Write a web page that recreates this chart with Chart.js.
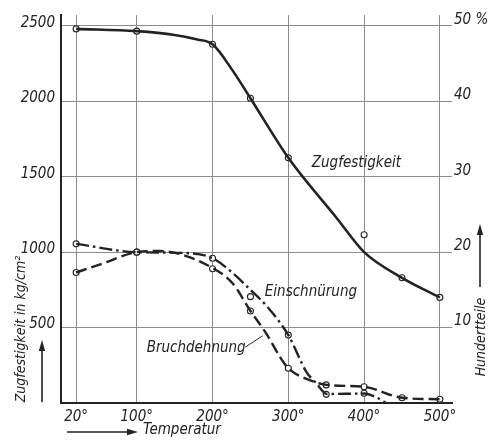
<!DOCTYPE html>
<html><head><meta charset="utf-8">
<script src="https://cdn.jsdelivr.net/npm/chart.js@4/dist/chart.umd.min.js"></script>
<style>html,body{margin:0;padding:0;background:#fff}#wrap{width:488px;height:443px;position:relative}</style>
</head><body><div id="wrap"><canvas id="c"></canvas></div>
<script>
// Temperature ticks (°C)
const tempTicks = [20, 100, 200, 300, 400, 500];
// Zugfestigkeit (kg/cm²): traced curve and measured points
const zugCurveT = [20, 100, 150, 180, 200, 227, 250, 300, 364, 400, 450, 500];
const zugCurve  = [2480, 2465, 2440, 2410, 2378, 2200, 2020, 1625, 1225, 1000, 830, 700];
const zugPtsT   = [20, 100, 200, 250, 300, 400, 450, 500];
const zugPts    = [2480, 2465, 2378, 2020, 1625, 1115, 830, 700];
// Einschnürung (%): traced curve and measured points
const einCurveT = [20, 100, 160, 200, 227, 250, 271, 300, 324, 337, 351, 400, 415, 429];
const einCurve  = [21.1, 20.0, 19.9, 19.2, 17.2, 15.0, 12.9, 9.0, 4.1, 2.6, 1.2, 1.25, 0.8, 0];
const einPtsT   = [20, 100, 200, 250, 300, 350, 400];
const einPts    = [21.1, 20.0, 19.2, 14.1, 9.0, 1.15, 1.3];
// Bruchdehnung (%): traced curve and measured points
const bruchCurveT = [20, 55, 100, 130, 200, 227, 250, 271, 289, 300, 324, 351, 400, 450, 500];
const bruchCurve  = [17.3, 18.5, 20.0, 20.15, 17.9, 15.8, 12.2, 9.2, 6.1, 4.6, 3.2, 2.4, 2.15, 0.7, 0.5];
const bruchPtsT   = [20, 100, 200, 250, 300, 350, 400, 450, 500];
const bruchPts    = [17.3, 20.0, 17.8, 12.2, 4.6, 2.4, 2.15, 0.7, 0.5];
// Axis tick values
const leftTicks  = [500, 1000, 1500, 2000, 2500];
const rightTicks = [10, 20, 30, 40, 50];

const FONT = "'DejaVu Sans Condensed','Liberation Sans Narrow','DejaVu Sans',sans-serif";
const INK = '#232323';
Chart.defaults.font.family = FONT;
Chart.defaults.font.style = 'italic';
Chart.defaults.color = INK;

const pts = (xs, ys) => xs.map((x, i) => ({x, y: ys[i]}));

const notes = [
  {text: 'Zugfestigkeit', t: 331, v: 1590},
  {text: 'Einschnürung', t: 269, v: 732},
  {text: 'Bruchdehnung', t: 113, v: 363}
];

function arrow(ctx, x1, y1, x2, y2) {
  const a = Math.atan2(y2 - y1, x2 - x1), L = 11, W = 3.2;
  ctx.beginPath(); ctx.moveTo(x1, y1);
  ctx.lineTo(x2 - L * Math.cos(a), y2 - L * Math.sin(a)); ctx.stroke();
  ctx.beginPath(); ctx.moveTo(x2, y2);
  ctx.lineTo(x2 - L * Math.cos(a) - W * Math.sin(a), y2 - L * Math.sin(a) + W * Math.cos(a));
  ctx.lineTo(x2 - L * Math.cos(a) + W * Math.sin(a), y2 - L * Math.sin(a) - W * Math.cos(a));
  ctx.closePath(); ctx.fill();
}

const deco = {
  id: 'deco',
  afterDraw(chart) {
    const ctx = chart.ctx, xs = chart.scales.x, ys = chart.scales.y;
    ctx.save();
    ctx.fillStyle = INK; ctx.strokeStyle = INK;
    ctx.font = 'italic 15px ' + FONT;
    ctx.textBaseline = 'middle'; ctx.textAlign = 'left';
    notes.forEach(n => ctx.fillText(n.text, xs.getPixelForValue(n.t), ys.getPixelForValue(n.v)));
    // leader line for Bruchdehnung
    ctx.lineWidth = 1;
    ctx.beginPath();
    ctx.moveTo(xs.getPixelForValue(243), ys.getPixelForValue(370));
    ctx.lineTo(xs.getPixelForValue(266), ys.getPixelForValue(445));
    ctx.stroke();
    // left axis title
    ctx.save();
    ctx.translate(21, 329); ctx.rotate(-Math.PI / 2);
    ctx.textAlign = 'center'; ctx.font = 'italic 14px ' + FONT;
    ctx.fillText('Zugfestigkeit in kg/cm²', 0, 0);
    ctx.restore();
    // right axis title
    ctx.save();
    ctx.translate(481, 337); ctx.rotate(-Math.PI / 2);
    ctx.textAlign = 'center'; ctx.font = 'italic 14px ' + FONT;
    ctx.fillText('Hundertteile', 0, 0);
    ctx.restore();
    // bottom title
    ctx.font = 'italic 15px ' + FONT;
    ctx.fillText('Temperatur', 143, 430);
    // arrows
    ctx.lineWidth = 1.6;
    arrow(ctx, 42, 402, 42, 340);
    arrow(ctx, 480, 287, 480, 224);
    arrow(ctx, 67, 432, 138, 432);
    ctx.restore();
  }
};

const marker = {showLine: false, pointRadius: 3, pointBackgroundColor: '#fff', pointBorderColor: INK, pointBorderWidth: 1.1};
const curve = {showLine: true, pointRadius: 0, borderColor: INK, cubicInterpolationMode: 'monotone'};

new Chart(document.getElementById('c'), {
  type: 'scatter',
  data: {
    datasets: [
      Object.assign({label: 'Zugfestigkeit', data: pts(zugCurveT, zugCurve), yAxisID: 'y', borderWidth: 2.6}, curve),
      Object.assign({label: 'Einschnürung', data: pts(einCurveT, einCurve), yAxisID: 'y2', borderWidth: 2.4, borderDash: [13, 4, 2.5, 4]}, curve),
      Object.assign({label: 'Bruchdehnung', data: pts(bruchCurveT, bruchCurve), yAxisID: 'y2', borderWidth: 2.4, borderDash: [11, 5]}, curve),
      Object.assign({label: 'Zugfestigkeit Messpunkte', data: pts(zugPtsT, zugPts), yAxisID: 'y'}, marker),
      Object.assign({label: 'Einschnürung Messpunkte', data: pts(einPtsT, einPts), yAxisID: 'y2'}, marker),
      Object.assign({label: 'Bruchdehnung Messpunkte', data: pts(bruchPtsT, bruchPts), yAxisID: 'y2'}, marker)
    ]
  },
  options: {
    responsive: true, maintainAspectRatio: false, animation: false,
    layout: {padding: {top: 13, left: 0, right: 0, bottom: 0}},
    plugins: {legend: {display: false}, tooltip: {enabled: false}},
    scales: {
      x: {
        type: 'linear', min: 0, max: 516,
        afterBuildTicks: s => { s.ticks = tempTicks.map(v => ({value: v})); },
        afterFit: s => { s.height = 40; },
        grid: {color: '#8c8c8c', lineWidth: 1, drawTicks: false},
        border: {display: true, color: INK, width: 2},
        ticks: {padding: 5, font: {size: 15, style: 'italic'}, callback: v => v + '°', maxRotation: 0, autoSkip: false}
      },
      y: {
        type: 'linear', position: 'left', min: 0, max: 2572,
        afterBuildTicks: s => { s.ticks = [0].concat(leftTicks).map(v => ({value: v})); },
        afterFit: s => { s.width = 61; },
        grid: {color: '#8c8c8c', lineWidth: 1, drawTicks: false},
        border: {display: true, color: INK, width: 2},
        ticks: {padding: 6, labelOffset: -3, font: {size: 15, style: 'italic'}, callback: v => v === 0 ? '' : String(v)}
      },
      y2: {
        type: 'linear', position: 'right', min: 0, max: 51.44,
        afterBuildTicks: s => { s.ticks = rightTicks.map(v => ({value: v})); },
        afterFit: s => { s.width = 36; },
        grid: {display: false, drawTicks: false},
        border: {display: false},
        ticks: {padding: 2, labelOffset: -6, font: {size: 15, style: 'italic'}, callback: v => v === 50 ? '50 %' : String(v)}
      }
    }
  },
  plugins: [deco]
});
</script></body></html>
